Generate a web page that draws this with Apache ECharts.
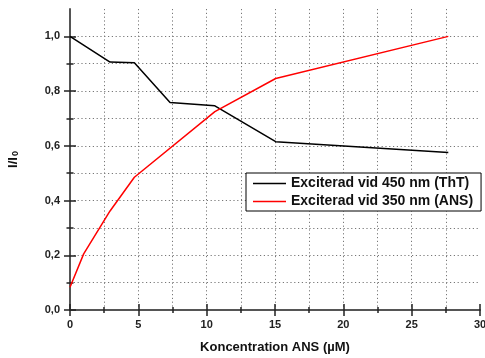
<!DOCTYPE html>
<html>
<head>
<meta charset="utf-8">
<script src="https://cdn.jsdelivr.net/npm/echarts@6/dist/echarts.min.js"></script>
<style>
  html, body { margin: 0; padding: 0; background: #fff; }
  #chart { width: 485px; height: 358px; }
</style>
</head>
<body>
<div id="chart"></div>
<script>
// Concentration (µM) and relative intensity I/I0 for each excitation
const thtConc = [0, 2.93, 4.71, 7.32, 10.6, 15.05, 27.68];
const thtRatio = [1.0, 0.906, 0.904, 0.758, 0.746, 0.615, 0.576];
const ansConc = [0, 1.0, 2.93, 4.71, 10.6, 15.05, 27.68];
const ansRatio = [0.083, 0.205, 0.362, 0.485, 0.725, 0.846, 1.0];

const seriesNames = ['Exciterad vid 450 nm (ThT)', 'Exciterad vid 350 nm (ANS)'];
const yMajorTicks = [0, 0.2, 0.4, 0.6, 0.8, 1.0];
const yMinorTicks = [0.1, 0.3, 0.5, 0.7, 0.9];

const FONT = '"Liberation Sans", Arial, sans-serif';
const AXIS_GRAY = '#555';
const GRID_GRAY = '#777';
const DOTS = [1.2, 2.6];

const pairs = (xs, ys) => xs.map((x, i) => [x, ys[i]]);

// x axes: one carries the line, labels and outward ticks; the twin adds inward ticks
function xAxisDef(inside, main) {
  return {
    type: 'value', position: 'bottom', min: 0, max: 30, interval: 5,
    axisLine: { show: main, onZero: false, lineStyle: { color: AXIS_GRAY, width: 2 } },
    axisTick: { show: true, inside: inside, length: 6, lineStyle: { color: '#222', width: 1.5 } },
    minorTick: { show: true, splitNumber: 2, length: 3, lineStyle: { color: '#222', width: 1.5 } },
    axisLabel: main ? {
      show: true, margin: 9, fontFamily: FONT, fontWeight: 'bold', fontSize: 11, color: '#222'
    } : { show: false },
    splitLine: { show: main, showMinLine: false, showMaxLine: false,
      lineStyle: { color: GRID_GRAY, type: DOTS, width: 1 } },
    minorSplitLine: { show: main, lineStyle: { color: GRID_GRAY, type: DOTS, width: 1 } },
    name: main ? 'Koncentration ANS (µM)' : '',
    nameLocation: 'middle', nameGap: 31,
    nameTextStyle: { fontFamily: FONT, fontWeight: 'bold', fontSize: 13, color: '#111' }
  };
}

// y axes: major and minor ticks are drawn on both sides of the axis line
function yTickAxis(values, inside, len) {
  return {
    type: 'value', position: 'left', min: 0, max: 1.1,
    axisLine: { show: false },
    axisTick: { show: true, inside: inside, length: len, customValues: values,
      lineStyle: { color: '#222', width: 1.5 } },
    axisLabel: { show: false },
    splitLine: { show: false }
  };
}

const yMain = {
  type: 'value', position: 'left', min: 0, max: 1.1, interval: 0.1,
  axisLine: { show: true, onZero: false, lineStyle: { color: AXIS_GRAY, width: 2 } },
  axisTick: { show: false },
  axisLabel: {
    show: true, margin: 10, customValues: yMajorTicks,
    fontFamily: FONT, fontWeight: 'bold', fontSize: 11, color: '#222',
    formatter: v => v.toFixed(1).replace('.', ',')
  },
  splitLine: { show: true, showMinLine: false, showMaxLine: false,
    lineStyle: { color: GRID_GRAY, type: DOTS, width: 1 } },
  name: '{a|I/I}{b|0}',
  nameLocation: 'middle', nameGap: 50,
  nameTextStyle: {
    rich: {
      a: { fontFamily: FONT, fontWeight: 'bold', fontSize: 13, color: '#111', lineHeight: 16, verticalAlign: 'bottom' },
      b: { fontFamily: FONT, fontWeight: 'bold', fontSize: 9, color: '#111', lineHeight: 16, verticalAlign: 'bottom', padding: [9, 0, 0, 1] }
    }
  }
};

const chart = echarts.init(document.getElementById('chart'), null, { renderer: 'canvas' });
chart.setOption({
  animation: false,
  backgroundColor: '#fff',
  grid: { left: 70, right: 5, top: 9, bottom: 48, containLabel: false, outerBoundsMode: 'none' },
  xAxis: [xAxisDef(false, true), xAxisDef(true, false)],
  yAxis: [
    yMain,
    yTickAxis(yMajorTicks, false, 6),
    yTickAxis(yMajorTicks, true, 6),
    yTickAxis(yMinorTicks, false, 3.5),
    yTickAxis(yMinorTicks, true, 3.5)
  ],
  legend: {
    orient: 'vertical', left: 246, top: 173,
    padding: [3, 8, 2, 7], itemGap: 3,
    icon: 'rect', itemWidth: 33, itemHeight: 1.5,
    backgroundColor: '#fff', borderColor: '#000', borderWidth: 1,
    textStyle: { fontFamily: FONT, fontWeight: 'bold', fontSize: 14, color: '#111', lineHeight: 15 },
    data: seriesNames
  },
  series: [
    {
      name: seriesNames[0], type: 'line', xAxisIndex: 0, yAxisIndex: 0,
      data: pairs(thtConc, thtRatio), symbol: 'none',
      lineStyle: { color: '#000', width: 1.5 }, itemStyle: { color: '#000' }
    },
    {
      name: seriesNames[1], type: 'line', xAxisIndex: 0, yAxisIndex: 0,
      data: pairs(ansConc, ansRatio), symbol: 'none',
      lineStyle: { color: '#ff0000', width: 1.5 }, itemStyle: { color: '#ff0000' }
    }
  ]
});
</script>
</body>
</html>
